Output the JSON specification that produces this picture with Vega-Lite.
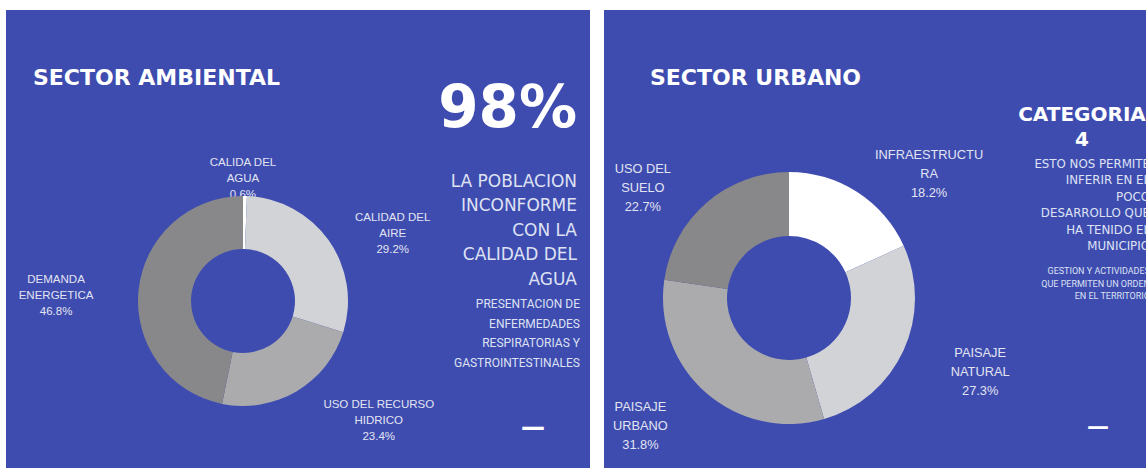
{
  "$schema": "https://vega.github.io/schema/vega-lite/v6.json",
  "background": "#3e4cb0",
  "padding": 0,
  "datasets": {
    "ambiental": [
      {"cat": "CALIDA DEL\nAGUA", "value": 0.006, "order": 1},
      {"cat": "CALIDAD DEL\nAIRE", "value": 0.292, "order": 2},
      {"cat": "USO DEL RECURSO\nHIDRICO", "value": 0.234, "order": 3},
      {"cat": "DEMANDA\nENERGETICA", "value": 0.468, "order": 4}
    ],
    "urbano": [
      {"cat": "INFRAESTRUCTU\nRA", "value": 0.182, "order": 1},
      {"cat": "PAISAJE\nNATURAL", "value": 0.273, "order": 2},
      {"cat": "PAISAJE\nURBANO", "value": 0.318, "order": 3},
      {"cat": "USO DEL\nSUELO", "value": 0.227, "order": 4}
    ]
  },
  "config": {
    "view": {"stroke": null},
    "concat": {"spacing": 0},
    "title": {"baseline": "top", "frame": "group", "orient": "bottom", "anchor": "start"}
  },
  "spacing": 0,
  "vconcat": [
    {"width": 1174, "height": 10, "view": {"fill": "#ffffff", "stroke": null}, "data": {"values": []}, "mark": "text", "encoding": {}},
    {
      "spacing": 0,
      "bounds": "flush",
      "hconcat": [
        {"width": 6, "height": 582, "view": {"fill": "#ffffff", "stroke": null}, "data": {"values": []}, "mark": "text", "encoding": {}},
        {
          "width": 474, "height": 582,
          "title": {"text": "SECTOR AMBIENTAL", "align": "left", "offset": -524, "dx": 27, "font": "DejaVu Sans", "fontSize": 22, "fontWeight": "bold", "color": "#ffffff"},
          "data": {"name": "ambiental"},
          "encoding": {
            "theta": {"field": "value", "type": "quantitative", "stack": true},
            "order": {"field": "order", "type": "quantitative"}
          },
          "layer": [
            {
              "mark": {"type": "text", "font": "Liberation Sans", "fontSize": 11.5, "lineBreak": "\n", "lineHeight": 16, "baseline": "middle", "dy": -16, "color": "#e2e4f0", "align": "center",
                "radius": {"expr": "datum.order == 1 ? 122 : datum.order == 2 ? 164 : datum.order == 3 ? 181 : 187"},
                "thetaOffset": {"expr": "datum.order == 1 ? -0.019 : datum.order == 2 ? 0.195 : datum.order == 3 ? -0.314 : -0.075"}},
              "encoding": {"text": {"field": "cat", "type": "nominal"}}
            },
            {
              "mark": {"type": "text", "font": "Liberation Sans", "fontSize": 11.5, "baseline": "middle", "dy": 16, "color": "#e2e4f0", "align": "center",
                "radius": {"expr": "datum.order == 1 ? 122 : datum.order == 2 ? 164 : datum.order == 3 ? 181 : 187"},
                "thetaOffset": {"expr": "datum.order == 1 ? -0.019 : datum.order == 2 ? 0.195 : datum.order == 3 ? -0.314 : -0.075"}},
              "encoding": {"text": {"field": "value", "type": "quantitative", "format": ".1%"}}
            },
            {
              "mark": {"type": "arc", "innerRadius": 52, "outerRadius": 105},
              "encoding": {
                "color": {"field": "cat", "type": "nominal", "legend": null,
                  "scale": {"domain": ["CALIDA DEL\nAGUA", "CALIDAD DEL\nAIRE", "USO DEL RECURSO\nHIDRICO", "DEMANDA\nENERGETICA"],
                            "range": ["#ffffff", "#d2d3d7", "#ababae", "#88888a"]}}
              }
            }
          ]
        },
        {
          "width": 40, "height": 458, "data": {"values": []}, "mark": "text", "encoding": {},
          "title": {"text": "98%", "subtitle": ["LA POBLACION", "INCONFORME", "CON LA", "CALIDAD DEL", "AGUA"],
            "align": "right", "offset": -387, "dx": 97, "font": "DejaVu Sans", "fontSize": 58, "fontWeight": "bold", "color": "#ffffff",
            "subtitleFont": "DejaVu Sans", "subtitleFontSize": 17, "subtitleColor": "#dfe2f3", "subtitleLineHeight": 24.4, "subtitlePadding": 35}
        },
        {
          "width": 40, "height": 458, "data": {"values": []}, "mark": "text", "encoding": {},
          "title": {"text": ["PRESENTACION DE", "ENFERMEDADES", "RESPIRATORIAS Y", "GASTROINTESTINALES"],
            "align": "right", "offset": -169, "dx": 60, "font": "Roboto", "fontSize": 12, "fontWeight": "normal", "lineHeight": 19.5, "color": "#dde1f3"}
        },
        {
          "width": 30, "height": 458, "data": {"values": []}, "mark": "text", "encoding": {},
          "title": {"text": "—", "align": "center", "offset": -52, "dx": -27, "font": "DejaVu Sans", "fontSize": 24, "fontWeight": "bold", "color": "#ffffff"}
        },
        {"width": 14, "height": 582, "view": {"fill": "#ffffff", "stroke": null}, "data": {"values": []}, "mark": "text", "encoding": {}},
        {
          "width": 370, "height": 576,
          "title": {"text": "SECTOR URBANO", "align": "left", "offset": -518, "dx": 46, "font": "DejaVu Sans", "fontSize": 22, "fontWeight": "bold", "color": "#ffffff"},
          "data": {"name": "urbano"},
          "encoding": {
            "theta": {"field": "value", "type": "quantitative", "stack": true},
            "order": {"field": "order", "type": "quantitative"}
          },
          "layer": [
            {
              "mark": {"type": "text", "font": "Liberation Sans", "fontSize": 12.8, "lineBreak": "\n", "lineHeight": 19, "baseline": "middle", "dy": -19, "color": "#e2e4f0", "align": "center",
                "radius": {"expr": "datum.order == 1 ? 187 : datum.order == 2 ? 205 : datum.order == 3 ? 196 : 183"},
                "thetaOffset": {"expr": "datum.order == 1 ? 0.275 : datum.order == 2 ? -0.061 : datum.order == 3 ? 0.144 : -0.212"}},
              "encoding": {"text": {"field": "cat", "type": "nominal"}}
            },
            {
              "mark": {"type": "text", "font": "Liberation Sans", "fontSize": 12.8, "baseline": "middle", "dy": 19, "color": "#e2e4f0", "align": "center",
                "radius": {"expr": "datum.order == 1 ? 187 : datum.order == 2 ? 205 : datum.order == 3 ? 196 : 183"},
                "thetaOffset": {"expr": "datum.order == 1 ? 0.275 : datum.order == 2 ? -0.061 : datum.order == 3 ? 0.144 : -0.212"}},
              "encoding": {"text": {"field": "value", "type": "quantitative", "format": ".1%"}}
            },
            {
              "mark": {"type": "arc", "innerRadius": 62, "outerRadius": 126},
              "encoding": {
                "color": {"field": "cat", "type": "nominal", "legend": null,
                  "scale": {"domain": ["INFRAESTRUCTU\nRA", "PAISAJE\nNATURAL", "PAISAJE\nURBANO", "USO DEL\nSUELO"],
                            "range": ["#f8f9fc", "#d2d3d7", "#ababae", "#88888a"]}}
              }
            }
          ]
        },
        {
          "width": 66, "height": 458, "data": {"values": []}, "mark": "text", "encoding": {},
          "title": {"text": ["CATEGORIA", "4"], "align": "center", "offset": -363, "dx": 108, "font": "DejaVu Sans", "fontSize": 20, "fontWeight": "bold", "lineHeight": 25, "color": "#ffffff"}
        },
        {
          "width": 60, "height": 458, "data": {"values": []}, "mark": "text", "encoding": {},
          "title": {"text": ["ESTO NOS PERMITE", "INFERIR EN EL", "POCO", "DESARROLLO QUE", "HA TENIDO EL", "MUNICIPIO"],
            "subtitle": ["GESTION Y ACTIVIDADES", "QUE PERMITEN UN ORDEN", "EN EL TERRITORIO"],
            "align": "right", "offset": -309, "dx": 110, "font": "DejaVu Sans", "fontSize": 11.8, "fontWeight": "normal", "lineHeight": 16.4, "color": "#dfe2f3",
            "subtitleFont": "Roboto", "subtitleFontSize": 9, "subtitleColor": "#dde1f3", "subtitleLineHeight": 12.8, "subtitlePadding": 14}
        },
        {
          "width": 74, "height": 458, "data": {"values": []}, "mark": "text", "encoding": {},
          "title": {"text": "—", "align": "center", "offset": -51, "dx": -2, "font": "DejaVu Sans", "fontSize": 22, "fontWeight": "bold", "color": "#ffffff"}
        }
      ]
    }
  ]
}
